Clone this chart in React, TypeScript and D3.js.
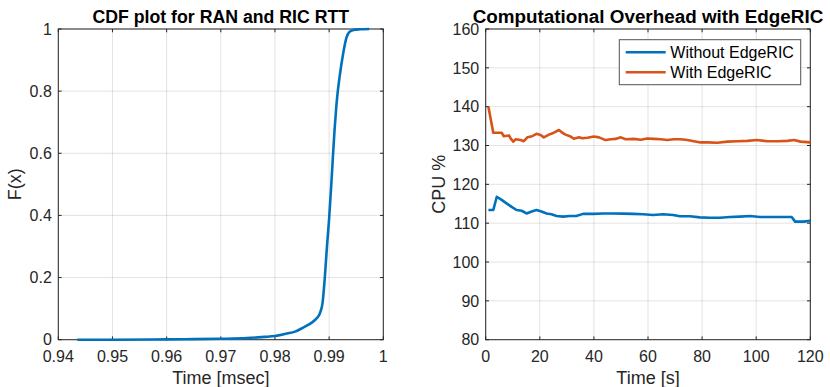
import React from 'react'
import * as d3 from 'd3'

// CDF of RAN/RIC round trip time
const cdfTime = [0.9435, 0.95, 0.96, 0.965, 0.97, 0.9748, 0.978, 0.98, 0.9822, 0.9837, 0.9852, 0.9868, 0.9877, 0.9883, 0.9888, 0.9892, 0.9896, 0.99, 0.9904, 0.9907, 0.991, 0.9913, 0.9916, 0.992, 0.9926, 0.9932, 0.9937, 0.9945, 0.9957, 0.9974]
const cdfF = [0, 0, 0.001, 0.002, 0.003, 0.005, 0.009, 0.012, 0.02, 0.026, 0.039, 0.055, 0.069, 0.085, 0.12, 0.2, 0.3, 0.39, 0.5, 0.59, 0.675, 0.745, 0.8, 0.855, 0.922, 0.972, 0.99, 0.997, 0.999, 1.0]
const cdfXTicks = [0.94, 0.95, 0.96, 0.97, 0.98, 0.99, 1]
const cdfYTicks = [0, 0.2, 0.4, 0.6, 0.8, 1]

// CPU usage over time
const withTime = [1, 2.8, 5.9, 6.7, 8.6, 9.2, 10.2, 11.1, 12.9, 14.1, 15.4, 17.2, 18.8, 20.3, 21.5, 23.4, 25.2, 27.1, 28.3, 29.5, 31.4, 32.6, 34.5, 35.7, 37.6, 40, 41.9, 44.3, 46.2, 48, 49.9, 51.7, 54.8, 57.3, 59.7, 62.2, 64.7, 67.1, 69.6, 72, 74.5, 77, 79.4, 81.9, 85.6, 89.3, 93, 96.7, 100.4, 104.1, 107.8, 111.5, 114, 116.4, 120]
const withCpu = [140, 133.3, 133.3, 132.4, 132.6, 131.85, 131.0, 131.6, 131.4, 131.1, 132.1, 132.4, 133.0, 132.7, 132.1, 132.8, 133.3, 134.0, 133.3, 132.8, 132.3, 131.75, 132.1, 131.85, 132.0, 132.3, 132.1, 131.4, 131.6, 131.7, 132.1, 131.6, 131.7, 131.5, 131.8, 131.7, 131.6, 131.4, 131.6, 131.6, 131.4, 131.1, 130.8, 130.8, 130.7, 131.0, 131.1, 131.2, 131.4, 131.1, 131.1, 131.2, 131.4, 131.0, 130.8]
const withoutTime = [1, 2.8, 4.1, 5.9, 7.7, 9.6, 11.4, 13.3, 15.1, 17, 18.8, 20.6, 22.5, 24.3, 26.2, 28.6, 31.1, 33.5, 36, 39.7, 43.4, 47.1, 50.8, 54.5, 58.2, 61.9, 65.6, 69.3, 71.8, 75.5, 79.2, 82.9, 86.6, 90.3, 94, 97.7, 101.4, 105.1, 108.8, 113.1, 114.4, 117.4, 120]
const withoutCpu = [113.4, 113.4, 116.8, 116.0, 115.1, 114.2, 113.4, 113.2, 112.5, 113.0, 113.4, 113.0, 112.5, 112.3, 111.85, 111.7, 111.85, 111.85, 112.4, 112.4, 112.5, 112.5, 112.45, 112.4, 112.3, 112.1, 112.3, 112.1, 111.8, 111.8, 111.5, 111.4, 111.4, 111.6, 111.7, 111.85, 111.6, 111.6, 111.6, 111.6, 110.4, 110.4, 110.6]
const cpuXTicks = [0, 20, 40, 60, 80, 100, 120]
const cpuYTicks = [80, 90, 100, 110, 120, 130, 140, 150, 160]
const seriesNames = ['Without EdgeRIC', 'With EdgeRIC']

const BLUE = '#0072BD'
const ORANGE = '#D95319'
const AXIS = '#262626'
const FONT = '"Liberation Sans", Arial, Helvetica, sans-serif'

const top = 29
const bottom = 339.7

function Axes({ x, y, xTicks, yTicks, xFmt, yFmt, title, titleLen, xLabel, yLabel, yLabelX }) {
  const [x0, x1] = x.range()
  const tl = 3.3
  return (
    <g fontFamily={FONT} fill={AXIS}>
      {xTicks.map(t => (
        <line key={'gx' + t} x1={x(t)} x2={x(t)} y1={top} y2={bottom} stroke={AXIS} strokeOpacity={0.13} />
      ))}
      {yTicks.map(t => (
        <line key={'gy' + t} x1={x0} x2={x1} y1={y(t)} y2={y(t)} stroke={AXIS} strokeOpacity={0.13} />
      ))}
      {xTicks.map(t => (
        <g key={'tx' + t}>
          <line x1={x(t)} x2={x(t)} y1={bottom} y2={bottom - tl} stroke={AXIS} />
          <line x1={x(t)} x2={x(t)} y1={top} y2={top + tl} stroke={AXIS} />
          <text x={x(t)} y={362} textAnchor="middle" fontSize={16}>{xFmt(t)}</text>
        </g>
      ))}
      {yTicks.map(t => (
        <g key={'ty' + t}>
          <line x1={x0} x2={x0 + tl} y1={y(t)} y2={y(t)} stroke={AXIS} />
          <line x1={x1} x2={x1 - tl} y1={y(t)} y2={y(t)} stroke={AXIS} />
          <text x={x0 - 6.5} y={y(t) + 5.7} textAnchor="end" fontSize={16}>{yFmt(t)}</text>
        </g>
      ))}
      <rect x={x0} y={top} width={x1 - x0} height={bottom - top} fill="none" stroke={AXIS} />
      <text x={(x0 + x1) / 2} y={22.5} textAnchor="middle" fontSize={18} fontWeight="bold" fill="#000"
        textLength={titleLen} lengthAdjust="spacingAndGlyphs">{title}</text>
      <text x={(x0 + x1) / 2} y={384} textAnchor="middle" fontSize={18}>{xLabel}</text>
      <text transform={`translate(${yLabelX},${(top + bottom) / 2}) rotate(-90)`} y={6.3} textAnchor="middle" fontSize={18}>{yLabel}</text>
    </g>
  )
}

export default function App() {
  const xc = d3.scaleLinear().domain([0.94, 1]).range([58.3, 383.3])
  const yc = d3.scaleLinear().domain([0, 1]).range([bottom, top])
  const xr = d3.scaleLinear().domain([0, 120]).range([485.7, 810.3])
  const yr = d3.scaleLinear().domain([80, 160]).range([bottom, top])

  const cdfLine = d3.line<number>().x((d, i) => xc(cdfTime[i])).y(d => yc(d)).curve(d3.curveMonotoneX)
  const withLine = d3.line<number>().x((d, i) => xr(withTime[i])).y(d => yr(d))
  const withoutLine = d3.line<number>().x((d, i) => xr(withoutTime[i])).y(d => yr(d))

  const fmtY = (v: number) => String(v)

  const lg = { x0: 619.3, y0: 39.7, w: 181.4, h: 45 }
  const colors = [BLUE, ORANGE]

  return (
    <div style={{ position: 'fixed', left: 0, top: 0 }}>
      <svg width={830} height={387} style={{ display: 'block', background: '#fff' }}>
        <Axes x={xc} y={yc} xTicks={cdfXTicks} yTicks={cdfYTicks} xFmt={(v: number) => (v === 1 ? '1' : d3.format('.2f')(v))} yFmt={fmtY}
          title="CDF plot for RAN and RIC RTT" titleLen={256.7} xLabel="Time [msec]" yLabel="F(x)" yLabelX={15} />
        <path d={cdfLine(cdfF) || ''} fill="none" stroke={BLUE} strokeWidth={2.6} strokeLinejoin="round" />

        <Axes x={xr} y={yr} xTicks={cpuXTicks} yTicks={cpuYTicks} xFmt={fmtY} yFmt={fmtY}
          title="Computational Overhead with EdgeRIC" titleLen={350.6} xLabel="Time [s]" yLabel="CPU %" yLabelX={438.3} />
        <path d={withoutLine(withoutCpu) || ''} fill="none" stroke={BLUE} strokeWidth={2.6} strokeLinejoin="round" />
        <path d={withLine(withCpu) || ''} fill="none" stroke={ORANGE} strokeWidth={2.6} strokeLinejoin="round" />

        <g fontFamily={FONT}>
          <rect x={lg.x0} y={lg.y0} width={lg.w} height={lg.h} fill="#fff" stroke={AXIS} strokeOpacity={0.8} />
          {seriesNames.map((n, i) => (
            <g key={n}>
              <line x1={625.7} x2={665.7} y1={52.3 + i * 20} y2={52.3 + i * 20} stroke={colors[i]} strokeWidth={2.6} />
              <text x={670.3} y={52.3 + i * 20 + 5.6} fontSize={16} fill="#000">{n}</text>
            </g>
          ))}
        </g>
      </svg>
    </div>
  )
}
